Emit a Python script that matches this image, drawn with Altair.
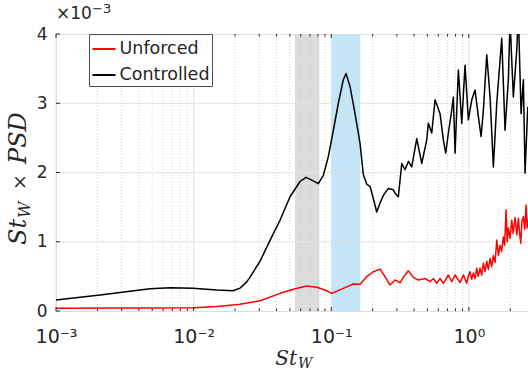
import altair as alt
import pandas as pd

# Premultiplied spectra St_W * PSD (in units of 1e-3) against Strouhal number St_W
unforced_st = [0.001, 0.004, 0.01, 0.0147, 0.0193, 0.0217, 0.0304, 0.0425, 0.053, 0.0664,
               0.0785, 0.0901, 0.1008, 0.1224, 0.1447, 0.1619, 0.1811, 0.2023, 0.2263, 0.246,
               0.2676, 0.2909, 0.3162, 0.3381, 0.3634, 0.3951, 0.4295, 0.4805, 0.5224, 0.5521,
               0.5843, 0.6176, 0.6527, 0.7096, 0.7511, 0.7938, 0.863, 0.912, 0.9654, 0.99,
               1.02, 1.05, 1.078, 1.11, 1.141, 1.17, 1.206, 1.24, 1.275, 1.31,
               1.349, 1.385, 1.426, 1.465, 1.507, 1.55, 1.595, 1.64, 1.686, 1.73,
               1.781, 1.82, 1.864, 1.90, 1.936, 1.99, 2.05, 2.10, 2.167, 2.23,
               2.289, 2.33, 2.384, 2.43, 2.489, 2.55, 2.604, 2.65, 2.69]
unforced_psd = [0.04, 0.042, 0.048, 0.065, 0.087, 0.096, 0.149, 0.255, 0.313, 0.361,
                0.342, 0.303, 0.255, 0.327, 0.39, 0.385, 0.495, 0.567, 0.605, 0.495,
                0.375, 0.448, 0.41, 0.50, 0.58, 0.486, 0.448, 0.47, 0.423, 0.47,
                0.40, 0.47, 0.40, 0.52, 0.423, 0.52, 0.41, 0.52, 0.40, 0.50,
                0.567, 0.46, 0.55, 0.47, 0.616, 0.50, 0.62, 0.52, 0.69, 0.57,
                0.72, 0.60, 0.76, 0.64, 0.80, 0.70, 1.025, 0.80, 0.95, 0.86,
                1.07, 0.95, 1.46, 1.00, 1.20, 1.05, 1.31, 1.12, 1.35, 1.10,
                1.34, 1.15, 0.98, 1.30, 1.36, 1.18, 1.53, 1.20, 1.32]

controlled_st = [0.001, 0.00209, 0.00482, 0.00674, 0.0099, 0.01468, 0.01933, 0.02173, 0.02432, 0.0257,
                 0.0304, 0.0359, 0.04245, 0.05019, 0.05933, 0.06561, 0.07216, 0.08057, 0.08762, 0.09526,
                 0.1036, 0.1126, 0.1224, 0.1281, 0.137, 0.1489, 0.1619, 0.1711, 0.1811, 0.1914,
                 0.2023, 0.2141, 0.2263, 0.2391, 0.26, 0.2827, 0.2909, 0.3073, 0.3254, 0.3438,
                 0.3634, 0.3846, 0.4182, 0.4546, 0.4943, 0.5077, 0.5374, 0.568, 0.6176, 0.6527,
                 0.6792, 0.7096, 0.7511, 0.7715, 0.7938, 0.839, 0.888, 0.9384, 0.9917, 1.05,
                 1.109, 1.172, 1.227, 1.275, 1.349, 1.426, 1.507, 1.595, 1.734, 1.832,
                 1.936, 1.992, 2.105, 2.229, 2.289, 2.396, 2.489, 2.561, 2.68]
controlled_psd = [0.16, 0.23, 0.32, 0.336, 0.327, 0.303, 0.293, 0.33, 0.42, 0.49,
                  0.72, 1.02, 1.31, 1.65, 1.87, 1.93, 1.89, 1.84, 1.96, 2.23,
                  2.61, 3.0, 3.34, 3.43, 3.24, 2.85, 2.42, 1.97, 1.83, 1.80,
                  1.62, 1.43, 1.56, 1.67, 1.77, 1.75, 1.70, 1.65, 2.13, 2.04,
                  2.16, 2.08, 2.49, 2.13, 2.47, 2.71, 2.57, 3.05, 2.85, 2.47,
                  2.28, 2.57, 2.90, 3.09, 2.28, 3.48, 2.71, 3.55, 2.76, 3.05,
                  3.19, 2.81, 2.52, 2.90, 3.70, 3.09, 2.08, 3.0, 3.94, 2.61,
                  3.34, 4.2, 3.09, 3.77, 4.3, 2.85, 3.34, 1.99, 2.95]

# Shaded frequency bands
band_lo = [0.0545, 0.1]
band_hi = [0.082, 0.1625]
band_fill = ["#dcdcdc", "#c4e5f6"]

series_names = ["Unforced", "Controlled"]
series_colors = ["#ff0000", "#000000"]

major_x = [0.001, 0.01, 0.1, 1]
minor_x = [0.002, 0.003, 0.004, 0.005, 0.006, 0.007, 0.008, 0.009,
           0.02, 0.03, 0.04, 0.05, 0.06, 0.07, 0.08, 0.09,
           0.2, 0.3, 0.4, 0.5, 0.6, 0.7, 0.8, 0.9, 2]
y_ticks = [0, 1, 2, 3, 4]
y_grid = [1, 2, 3]

W, H = 472, 277
INK = "#262626"
SANS = "DejaVu Sans"
SERIF = "DejaVu Serif"

xs = alt.Scale(type="log", domain=[0.001, 2.69], nice=False)
ys = alt.Scale(domain=[0, 4], nice=False, zero=False)

x_axis = alt.Axis(
    values=major_x,
    labelExpr="'10' + ['⁻³', '⁻²', '⁻¹', '⁰'][round(log(datum.value) / LN10) + 3]",
    ticks=False, domain=False, grid=False, title=None,
    labelFont=SANS, labelFontSize=19, labelColor=INK,
    labelBaseline="alphabetic", labelPadding=31, labelFlush=False,
)
y_axis = alt.Axis(
    values=y_ticks, format="d",
    ticks=False, domain=False, grid=False, title=None,
    labelFont=SANS, labelFontSize=17, labelColor=INK, labelPadding=9,
)


def X(field):
    return alt.X(field, type="quantitative", scale=xs, axis=x_axis)


def Y(field):
    return alt.Y(field, type="quantitative", scale=ys, axis=y_axis)


bands_df = pd.DataFrame({"lo": band_lo, "hi": band_hi, "fill": band_fill})
major_df = pd.DataFrame({"v": major_x})
minor_df = pd.DataFrame({"v": minor_x})
ygrid_df = pd.DataFrame({"v": y_grid})
yticks_df = pd.DataFrame({"v": y_ticks})

lines_df = pd.concat([
    pd.DataFrame({"st": unforced_st, "psd": unforced_psd, "series": "Unforced"}),
    pd.DataFrame({"st": controlled_st, "psd": controlled_psd, "series": "Controlled"}),
], ignore_index=True)

bands = alt.Chart(bands_df).mark_rect().encode(
    x=X("lo"), x2="hi", y=alt.value(0), y2=alt.value(H),
    color=alt.Color("fill:N", scale=None),
)

minor_grid = alt.Chart(minor_df).mark_rule(
    color="#c4c4c4", strokeWidth=0.8, strokeDash=[1, 2]
).encode(x=X("v"))
major_grid = alt.Chart(major_df).mark_rule(color="#e2e2e2", strokeWidth=1).encode(x=X("v"))
h_grid = alt.Chart(ygrid_df).mark_rule(color="#e2e2e2", strokeWidth=1).encode(y=Y("v"))

lines = alt.Chart(lines_df).mark_line(clip=True, strokeWidth=1.5, strokeJoin="round").encode(
    x=X("st"), y=Y("psd"),
    color=alt.Color(
        "series:N",
        scale=alt.Scale(domain=series_names, range=series_colors),
        legend=alt.Legend(
            title=None, orient="none", legendX=33, legendY=0,
            direction="vertical",
            fillColor="white", strokeColor="#4d4d4d", padding=2.5,
            symbolType="stroke", symbolSize=529, symbolStrokeWidth=2,
            labelFont=SANS, labelFontSize=17.5, labelColor=INK,
            labelOffset=3, rowPadding=5, labelLimit=200,
        ),
    ),
    detail="series:N",
)

# inward tick marks on the bottom, top and left edges
bot_major = alt.Chart(major_df).mark_rule(color=INK).encode(x=X("v"), y=alt.value(H), y2=alt.value(H - 4))
bot_minor = alt.Chart(minor_df).mark_rule(color=INK).encode(x=X("v"), y=alt.value(H), y2=alt.value(H - 2.5))
top_major = alt.Chart(major_df).mark_rule(color=INK).encode(x=X("v"), y=alt.value(0), y2=alt.value(4))
top_minor = alt.Chart(minor_df).mark_rule(color=INK).encode(x=X("v"), y=alt.value(0), y2=alt.value(2.5))
left_ticks = alt.Chart(yticks_df).mark_rule(color=INK).encode(y=Y("v"), x=alt.value(0), x2=alt.value(4))


def label(text, x, y, size, font=SERIF, italic=True, angle=0, align="left"):
    return alt.Chart(pd.DataFrame({"t": [text]})).mark_text(
        font=font, fontSize=size, fontStyle="italic" if italic else "normal",
        color=INK, angle=angle, align=align, baseline="alphabetic",
    ).encode(text="t:N", x=alt.value(x), y=alt.value(y))


# axis titles: St_W and St_W x PSD
x_title = [
    label("St", 241, 331, 20, align="right"),
    label("W", 242, 334, 14),
]
y_title = [
    label("St", -30, 211, 24, angle=270),
    label("W", -26, 184, 16, angle=270),
    label("×", -30, 148, 19, italic=False, angle=270, align="center"),
    label("PSD", -30, 130, 24, angle=270),
]
# exponent multiplier above the y axis
multiplier = [
    label("×10", 0, -15, 17, font=SANS, italic=False),
    label("−3", 36, -21, 13, font=SANS, italic=False),
]

chart = alt.layer(
    bands, minor_grid, major_grid, h_grid, lines,
    bot_major, bot_minor, top_major, top_minor, left_ticks,
    *x_title, *y_title, *multiplier,
).properties(
    width=W, height=H,
    autosize=alt.AutoSizeParams(type="none"),
    padding={"left": 56, "top": 34, "right": 0, "bottom": 59},
).configure_view(
    stroke="#3c3c3c", strokeWidth=1,
).configure(background="white")

chart.save("out.html", embed_options={"renderer": "svg", "actions": False})
